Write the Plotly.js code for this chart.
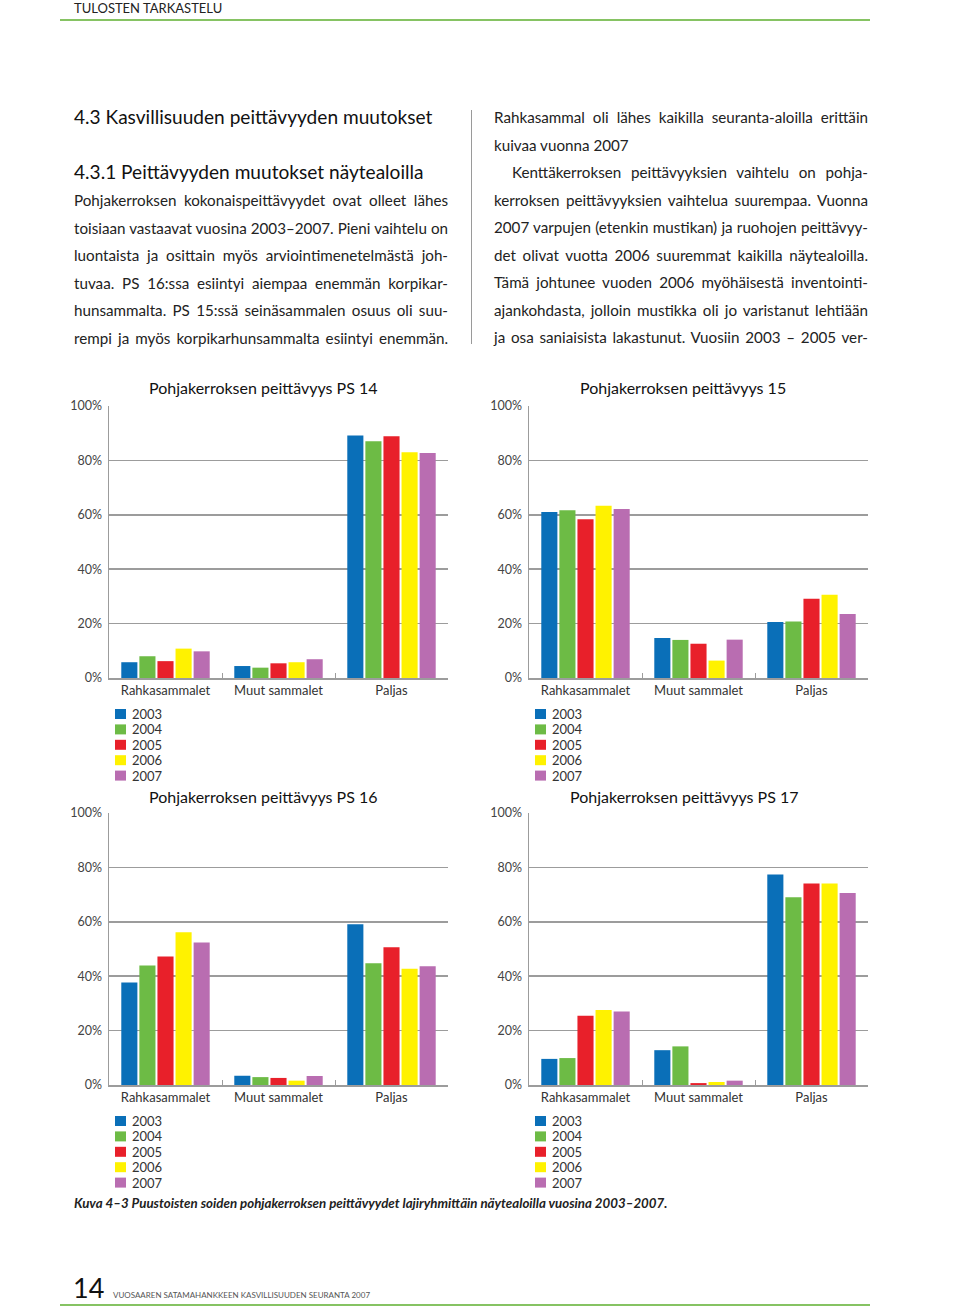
<!DOCTYPE html>
<html><head><meta charset="utf-8">
<script src="https://cdn.plot.ly/plotly-3.0.1.min.js"></script>
<style>
html,body{margin:0;padding:0;background:#fff;}
#page{position:relative;width:960px;height:1307px;overflow:hidden;font-family:Lato,"Open Sans",sans-serif;color:#1a1a1a;}
#plot{position:absolute;left:0;top:0;width:960px;height:1307px;}
.t{position:absolute;line-height:20px;height:20px;white-space:nowrap;}
.j{text-align:justify;text-align-last:justify;}
.body{font-size:15.2px;color:#222;}
.h{font-size:19.1px;color:#111;}
.rule{position:absolute;background:#86c363;height:2px;}
</style></head>
<body><div id="page"><div id="plot"></div>
<div class="t" style="left:74px;top:-2px;font-size:13px;color:#222;">TULOSTEN TARKASTELU</div>
<div class="rule" style="left:60px;top:19px;width:810px;"></div>

<div class="t h" style="left:74px;top:107px;width:380px;">4.3 Kasvillisuuden peittävyyden muutokset</div>
<div class="t h" style="left:74px;top:162px;width:380px;">4.3.1 Peittävyyden muutokset näytealoilla</div>
<div class="t body j" style="left:74px;top:190px;width:374px;">Pohjakerroksen kokonaispeittävyydet ovat olleet lähes</div>
<div class="t body j" style="left:74px;top:218px;width:374px;">toisiaan vastaavat vuosina 2003–2007. Pieni vaihtelu on</div>
<div class="t body j" style="left:74px;top:245px;width:374px;">luontaista ja osittain myös arviointimenetelmästä joh-</div>
<div class="t body j" style="left:74px;top:273px;width:374px;">tuvaa. PS 16:ssa esiintyi aiempaa enemmän korpikar-</div>
<div class="t body j" style="left:74px;top:300px;width:374px;">hunsammalta. PS 15:ssä seinäsammalen osuus oli suu-</div>
<div class="t body j" style="left:74px;top:328px;width:374px;">rempi ja myös korpikarhunsammalta esiintyi enemmän.</div>

<div style="position:absolute;left:471px;top:110px;width:1px;height:234px;background:#9a9a9a;"></div>

<div class="t body j" style="left:494px;top:107px;width:374px;">Rahkasammal oli lähes kaikilla seuranta-aloilla erittäin</div>
<div class="t body" style="left:494px;top:135px;width:374px;">kuivaa vuonna 2007</div>
<div class="t body j" style="left:512px;top:162px;width:356px;">Kenttäkerroksen peittävyyksien vaihtelu on pohja-</div>
<div class="t body j" style="left:494px;top:190px;width:374px;">kerroksen peittävyyksien vaihtelua suurempaa. Vuonna</div>
<div class="t body j" style="left:494px;top:217px;width:374px;">2007 varpujen (etenkin mustikan) ja ruohojen peittävyy-</div>
<div class="t body j" style="left:494px;top:245px;width:374px;">det olivat vuotta 2006 suuremmat kaikilla näytealoilla.</div>
<div class="t body j" style="left:494px;top:272px;width:374px;">Tämä johtunee vuoden 2006 myöhäisestä inventointi-</div>
<div class="t body j" style="left:494px;top:300px;width:374px;">ajankohdasta, jolloin mustikka oli jo varistanut lehtiään</div>
<div class="t body j" style="left:494px;top:327px;width:374px;">ja osa saniaisista lakastunut. Vuosiin 2003 – 2005 ver-</div>

<div class="t" style="left:74px;top:1193px;font-size:13.3px;font-style:italic;font-weight:bold;color:#222;">Kuva 4–3 Puustoisten soiden pohjakerroksen peittävyydet lajiryhmittäin näytealoilla vuosina 2003–2007.</div>

<div class="t" style="left:73px;top:1274px;font-size:27px;line-height:28px;height:28px;color:#111;">14</div>
<div class="t" style="left:113px;top:1285px;font-size:8px;color:#555;">VUOSAAREN SATAMAHANKKEEN KASVILLISUUDEN SEURANTA 2007</div>
<div class="rule" style="left:60px;top:1304px;width:810px;"></div>
</div>
<script>
const categories = ['Rahkasammalet', 'Muut sammalet', 'Paljas'];
const years = ['2003', '2004', '2005', '2006', '2007'];
const yTicks = [0, 20, 40, 60, 80, 100];
const yTickText = ['0%', '20%', '40%', '60%', '80%', '100%'];
const chartTitles = ['Pohjakerroksen peittävyys PS 14', 'Pohjakerroksen peittävyys 15',
                     'Pohjakerroksen peittävyys PS 16', 'Pohjakerroksen peittävyys PS 17'];
// rows = years 2003..2007, columns = categories
const ps14 = [[5.8, 4.4, 89.2], [8.0, 3.8, 87.0], [6.2, 5.4, 88.9], [10.8, 5.8, 83.0], [9.8, 6.9, 82.7]];
const ps15 = [[61.0, 14.7, 20.6], [61.7, 14.0, 20.8], [58.4, 12.6, 29.1], [63.3, 6.4, 30.6], [62.1, 14.1, 23.5]];
const ps16 = [[37.7, 3.4, 59.1], [43.9, 2.9, 44.8], [47.2, 2.6, 50.6], [56.2, 1.6, 42.7], [52.4, 3.3, 43.7]];
const ps17 = [[9.6, 12.8, 77.4], [9.9, 14.2, 69.0], [25.5, 0.7, 74.1], [27.6, 1.1, 74.1], [27.0, 1.6, 70.6]];
const chartData = [ps14, ps15, ps16, ps17];

const yearColors = ['#0a6fb8', '#6dbb45', '#e8202a', '#fff200', '#b96db1'];
const W = 960, H = 1307;
const px = x => x / W;
const py = y => 1 - y / H;
// page geometry of each plot area (pixels)
const boxes = [
  {x0: 109, x1: 448, top: 406, bot: 678, tx: 147, ty: 388, lx: 115, ly: 714},
  {x0: 529, x1: 868, top: 406, bot: 678, tx: 578, ty: 388, lx: 535, ly: 714},
  {x0: 109, x1: 448, top: 813, bot: 1085, tx: 147, ty: 796, lx: 115, ly: 1121},
  {x0: 529, x1: 868, top: 813, bot: 1085, tx: 568, ty: 796, lx: 535, ly: 1121}
];
const FONT = 'Lato, "Open Sans", sans-serif';
const grid = '#9c9c9c';
const traces = [], annotations = [], shapes = [];
const layout = {
  width: W, height: H, margin: {l: 0, r: 0, t: 0, b: 0},
  paper_bgcolor: 'rgba(0,0,0,0)', plot_bgcolor: 'rgba(0,0,0,0)',
  barmode: 'group', bargap: 0.2, bargroupgap: 0.11, showlegend: false,
  font: {family: FONT, color: '#333'}
};
boxes.forEach((b, i) => {
  const n = i + 1;
  const xa = 'xaxis' + (n === 1 ? '' : n), ya = 'yaxis' + (n === 1 ? '' : n);
  const xr = 'x' + (n === 1 ? '' : n), yr = 'y' + (n === 1 ? '' : n);
  layout[xa] = {
    domain: [px(b.x0), px(b.x1)], anchor: yr, type: 'category',
    showline: true, linecolor: grid, linewidth: 1.5, showgrid: false,
    ticks: 'inside', tickson: 'boundaries', ticklen: 5, tickcolor: grid, tickwidth: 1,
    tickfont: {size: 13, color: '#333', family: FONT}, fixedrange: true
  };
  layout[ya] = {
    domain: [py(b.bot), py(b.top)], anchor: xr, range: [0, 100],
    tickmode: 'array', tickvals: yTicks, ticktext: yTickText,
    showgrid: true, gridcolor: grid, gridwidth: 1.5, zeroline: false,
    showline: true, linecolor: grid, linewidth: 1.5, ticks: '',
    ticklabelstandoff: 3,
    tickfont: {size: 12.5, color: '#444', family: FONT}, fixedrange: true
  };
  years.forEach((yr_, k) => {
    traces.push({
      type: 'bar', x: categories, y: chartData[i][k], name: yr_,
      xaxis: xr, yaxis: yr, marker: {color: yearColors[k], line: {width: 0}},
      hoverinfo: 'x+y+name'
    });
    const cy = b.ly + k * 15.4;
    shapes.push({type: 'rect', xref: 'paper', yref: 'paper',
      x0: px(b.lx), x1: px(b.lx + 11), y0: py(cy + 5), y1: py(cy - 5),
      fillcolor: yearColors[k], line: {width: 0}});
    annotations.push({xref: 'paper', yref: 'paper', x: px(b.lx + 15), y: py(cy),
      xanchor: 'left', yanchor: 'middle', showarrow: false, text: yr_,
      font: {size: 13, color: '#333', family: FONT}});
  });
  annotations.push({xref: 'paper', yref: 'paper', x: px(b.tx), y: py(b.ty),
    xanchor: 'left', yanchor: 'middle', showarrow: false, text: chartTitles[i],
    font: {size: 16, color: '#111', family: FONT}});
});
layout.annotations = annotations;
layout.shapes = shapes;
Plotly.newPlot('plot', traces, layout, {displayModeBar: false, staticPlot: true});
</script>
</body></html>
